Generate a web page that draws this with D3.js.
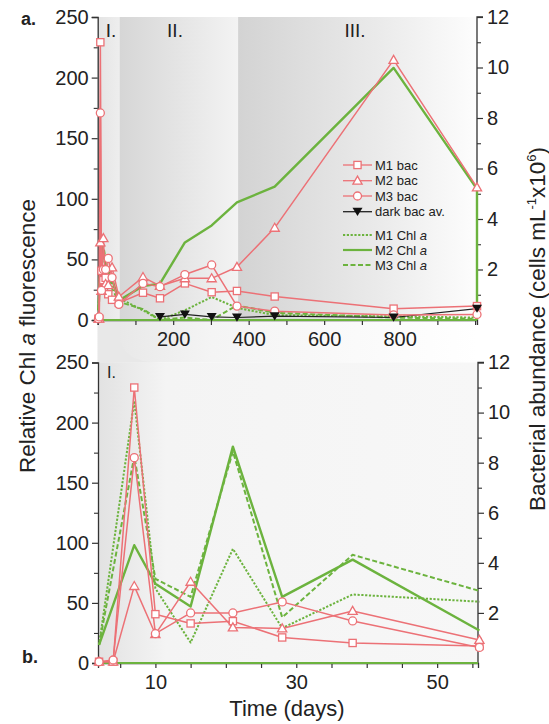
<!DOCTYPE html>
<html><head><meta charset="utf-8">
<script src="https://cdn.jsdelivr.net/npm/d3@7"></script>
<style>
body{margin:0;background:#fff}
svg{display:block}
text{font-family:"Liberation Sans",Arial,Helvetica,sans-serif;fill:#222}
</style>
</head><body>
<svg id="c" width="549" height="724"></svg>
<script>
// ---------------- DATA ----------------
// Phase I sampling days (days since start)
const bacDaysI = [2, 4, 7, 10, 15, 21, 28, 38, 56];
const chlDaysI = [2, 7, 10, 15, 21, 28, 38, 56];
// Phase I Chl as shown in the overview panel (a)
const topChlDaysI = [2, 10, 21, 38, 56];
// Phase II / III sampling days
const daysII = [120, 165, 231, 302, 369, 469, 784, 1005];
const darkDays = [165, 231, 302, 369, 469, 784, 1005];

// Bacterial abundance (cells mL-1 x10^6)
const m1BacI = [0.05, 0.05, 11.0, 1.95, 1.58, 1.67, 1.02, 0.80, 0.68];
const m2BacI = [0.05, 0.05, 3.07, 1.15, 3.24, 1.42, 1.38, 2.08, 0.92];
const m3BacI = [0.05, 0.12, 8.2, 1.17, 2.0, 2.0, 2.44, 1.68, 0.62];
const m1BacII = [1.08, 0.86, 1.45, 1.10, 1.15, 0.93, 0.45, 0.55];
const m2BacII = [1.70, 1.35, 1.65, 1.65, 2.10, 3.65, 10.3, 5.25];
const m3BacII = [1.45, 1.32, 1.80, 2.18, 0.55, 0.35, 0.20, 0.22];
const darkBac = [0.12, 0.22, 0.12, 0.10, 0.15, 0.10, 0.45];

// Relative Chl a fluorescence (panel b, phase I detail)
const m1ChlI = [15, 218, 62, 17, 95, 29, 57, 51];
const m2ChlI = [15, 98, 66, 47, 180, 55, 86, 27];
const m3ChlI = [15, 172, 70, 55, 176, 38, 90, 60];
// Relative Chl a fluorescence (panel a, phase I)
const m1ChlTopI = [8, 66, 42, 30, 18];
const m2ChlTopI = [8, 62, 46, 34, 16];
const m3ChlTopI = [8, 70, 50, 26, 15];
// Phase II / III
const m1ChlII = [8, 0, 8, 19, 10, 4, 3, 2];
const m2ChlII = [28, 30, 64, 78, 97, 110, 208, 108];
const m3ChlII = [9, 0, 2, 0, 12, 6, 2, 1];
const darkChl = 0;

// Axis ticks
const leftTicks = [0, 50, 100, 150, 200, 250];
const rightTicks = [2, 4, 6, 8, 10, 12];
const topXLabels = [200, 400, 600, 800];
const botXLabels = [10, 30, 50];
const phaseLabels = ["I.", "II.", "III."];
const phaseBounds = [0, 58, 372, 1005];

const legendItems = [
  {label: "M1 bac", type: "bac", marker: "square"},
  {label: "M2 bac", type: "bac", marker: "triangle"},
  {label: "M3 bac", type: "bac", marker: "circle"},
  {label: "dark bac av.", type: "dark", marker: "tridown"},
  {label: "M1 Chl ", ital: "a", type: "chl", dash: "2.2,1.6"},
  {label: "M2 Chl ", ital: "a", type: "chl", dash: null},
  {label: "M3 Chl ", ital: "a", type: "chl", dash: "5,2.5"}
];

// ---------------- DRAW ----------------
const RED = "#ec7176", GREEN = "#6cb33e", FONT = '"Liberation Sans",Arial,sans-serif';
const svg = d3.select("#c");

const xTop = d3.scaleLinear().domain([0, 1005]).range([97.7, 477]);
const yTopL = d3.scaleLinear().domain([0, 250]).range([320, 17]);
const yTopR = d3.scaleLinear().domain([0, 12]).range([320, 17]);
const xBot = d3.scaleLinear().domain([1.85, 55.8]).range([98, 478]);
const yBotL = d3.scaleLinear().domain([0, 250]).range([663, 362.5]);
const yBotR = d3.scaleLinear().domain([0, 12]).range([663, 362.5]);

const defs = svg.append("defs");
function grad(id, stops, vertical) {
  const g = defs.append("linearGradient").attr("id", id)
    .attr("x1", 0).attr("y1", 0).attr("x2", vertical ? 0 : 1).attr("y2", vertical ? 1 : 0);
  stops.forEach(s => g.append("stop").attr("offset", s[0]).attr("stop-color", s[1]));
}
grad("gI", [[0, "#e4e4e4"], [1, "#eeeeee"]]);
grad("gII", [[0, "#d6d6d6"], [1, "#f3f3f3"]]);
grad("gIII", [[0, "#d3d3d3"], [0.6, "#ebebeb"], [1, "#fdfdfd"]]);
grad("gBot", [[0, "#e2e2e2"], [0.18, "#f4f4f4"], [1, "#f7f7f7"]]);
grad("gMid", [[0, "#e6e6e6"], [0.3, "#f4f4f4"], [1, "#ffffff"]]);

const shadeFills = ["url(#gI)", "url(#gII)", "url(#gIII)"];
for (let i = 0; i < 3; i++) {
  svg.append("rect")
    .attr("x", xTop(phaseBounds[i])).attr("y", yTopL(250))
    .attr("width", xTop(phaseBounds[i + 1]) - xTop(phaseBounds[i]))
    .attr("height", yTopL(0) - yTopL(250))
    .attr("fill", shadeFills[i]);
}
svg.append("rect").attr("x", xTop(0)).attr("y", yTopL(0)).attr("width", xBot(55.8) - xTop(0))
  .attr("height", yBotL(250) - yTopL(0)).attr("fill", "url(#gMid)");
svg.append("path")
  .attr("d", `M${xTop(0)},${yTopL(0)} L${xTop(58)},${yTopL(0)} L${xTop(58)},${yTopL(0)+14} Q${xTop(58)},${yBotL(250)} ${xTop(58)+40},${yBotL(250)} L${xTop(0)},${yBotL(250)} Z`)
  .attr("fill", "#e8e8e8");
svg.append("rect").attr("x", xBot(1.85)).attr("y", yBotL(250))
  .attr("width", xBot(55.8) - xBot(1.85)).attr("height", yBotL(0) - yBotL(250))
  .attr("fill", "url(#gBot)");

// ---------- axes ----------
function styleAxis(g, fs) {
  g.select(".domain").attr("stroke", "#333").attr("stroke-width", 1.3);
  g.selectAll(".tick line").attr("stroke", "#333").attr("stroke-width", 1.2);
  g.selectAll("text").attr("font-size", fs).attr("font-family", FONT).attr("fill", "#222");
}
function minor(axisFn, scale, vals, x, y, size) {
  const g = svg.append("g").attr("transform", `translate(${x},${y})`)
    .call(axisFn(scale).tickValues(vals).tickSize(size).tickFormat(""));
  g.select(".domain").remove();
  g.selectAll(".tick line").attr("stroke", "#333").attr("stroke-width", 1.1);
}
const minorL = d3.range(25, 250, 50);
const minorR = d3.range(1, 12, 2);

function yAxes(yL, yR, xl, xr) {
  const gl = svg.append("g").attr("transform", `translate(${xl},0)`)
    .call(d3.axisLeft(yL).tickValues(leftTicks).tickSize(6).tickPadding(3));
  styleAxis(gl, 20);
  minor(d3.axisLeft, yL, minorL, xl, 0, 4);
  const gr = svg.append("g").attr("transform", `translate(${xr},0)`)
    .call(d3.axisRight(yR).tickValues(rightTicks).tickSize(6).tickPadding(4));
  styleAxis(gr, 20);
  gr.select(".domain").attr("d", `M6,${yR(12)}H0V${yR(0)}`);
  minor(d3.axisRight, yR, minorR, xr, 0, 4);
}
yAxes(yTopL, yTopR, xTop(0), xTop(1005));
yAxes(yBotL, yBotR, xBot(1.85), xBot(55.8));

const gxt = svg.append("g").attr("transform", `translate(0,${yTopL(0)})`)
  .call(d3.axisBottom(xTop).tickValues(d3.range(0, 1001, 100)).tickSize(5).tickPadding(7)
    .tickFormat(d => topXLabels.includes(d) ? d : ""));
styleAxis(gxt, 20);
const gxb = svg.append("g").attr("transform", `translate(0,${yBotL(0)})`)
  .call(d3.axisBottom(xBot).tickValues(d3.range(5, 56, 5)).tickSize(5).tickPadding(7)
    .tickFormat(d => botXLabels.includes(d) ? d : ""));
styleAxis(gxb, 20);

// ---------- series ----------
function pts(days, vals) { return days.map((d, i) => [d, vals[i]]); }
function drawLine(xs, ys, data, color, width, dash) {
  svg.append("path").datum(data)
    .attr("d", d3.line().x(d => xs(d[0])).y(d => ys(d[1])))
    .attr("fill", "none").attr("stroke", color).attr("stroke-width", width)
    .attr("stroke-dasharray", dash || null).attr("stroke-linejoin", "round");
}
function marker(g, type, x, y, color) {
  if (type === "square") {
    g.append("rect").attr("x", x - 3.6).attr("y", y - 3.6).attr("width", 7.2).attr("height", 7.2)
      .attr("fill", "#fff").attr("stroke", color).attr("stroke-width", 1.3);
  } else if (type === "circle") {
    g.append("circle").attr("cx", x).attr("cy", y).attr("r", 4)
      .attr("fill", "#fff").attr("stroke", color).attr("stroke-width", 1.3);
  } else if (type === "triangle") {
    g.append("path").attr("d", `M${x},${y - 4.6}L${x + 4.6},${y + 3.4}L${x - 4.6},${y + 3.4}Z`)
      .attr("fill", "#fff").attr("stroke", color).attr("stroke-width", 1.3);
  } else if (type === "tridown") {
    g.append("path").attr("d", `M${x},${y + 4.2}L${x + 5},${y - 4}L${x - 5},${y - 4}Z`)
      .attr("fill", "#111");
  }
}

const chlStyles = [
  {I: m1ChlI, topI: m1ChlTopI, II: m1ChlII, dash: "2.2,1.6", w: 2},
  {I: m2ChlI, topI: m2ChlTopI, II: m2ChlII, dash: null, w: 2.4},
  {I: m3ChlI, topI: m3ChlTopI, II: m3ChlII, dash: "5,2.5", w: 2}
];
const bacSeries = [
  {I: m1BacI, II: m1BacII, m: "square"},
  {I: m2BacI, II: m2BacII, m: "triangle"},
  {I: m3BacI, II: m3BacII, m: "circle"}
];

// ---- top panel ----
drawLine(xTop, yTopL, [[0, darkChl], [1005, darkChl]], GREEN, 2.2);
chlStyles.forEach((s, i) => {
  let data = pts(topChlDaysI.concat(daysII), s.topI.concat(s.II));
  if (i === 1) data = data.concat([[1005, darkChl]]);
  drawLine(xTop, yTopL, data, GREEN, s.w, s.dash);
});
drawLine(xTop, yTopR, pts(darkDays, darkBac), "#222", 1.2);
bacSeries.forEach(s => drawLine(xTop, yTopR, pts(bacDaysI.concat(daysII), s.I.concat(s.II)), RED, 1.5));
const mkTop = svg.append("g");
bacSeries.forEach(s => pts(bacDaysI.concat(daysII), s.I.concat(s.II))
  .forEach(p => marker(mkTop, s.m, xTop(p[0]), yTopR(p[1]), RED)));
pts(darkDays, darkBac).forEach(p => marker(mkTop, "tridown", xTop(p[0]), yTopR(p[1]), "#111"));

// ---- bottom panel ----
drawLine(xBot, yBotL, [[1.85, darkChl], [55.8, darkChl]], GREEN, 2.2);
chlStyles.forEach(s => drawLine(xBot, yBotL, pts(chlDaysI, s.I), GREEN, s.w, s.dash));
bacSeries.forEach(s => drawLine(xBot, yBotR, pts(bacDaysI, s.I), RED, 1.5));
const mkBot = svg.append("g");
bacSeries.forEach(s => pts(bacDaysI, s.I).forEach(p => marker(mkBot, s.m, xBot(p[0]), yBotR(p[1]), RED)));

// ---------- labels ----------
function txt(x, y, s, fs, opts = {}) {
  return svg.append("text").attr("x", x).attr("y", y).attr("font-size", fs)
    .attr("font-weight", opts.bold ? "bold" : null)
    .attr("text-anchor", opts.anchor || "start").text(s);
}
txt(21, 25, "a.", 18, {bold: true});
txt(22, 663, "b.", 18, {bold: true});
const phaseX = [111, 175, 355];
phaseLabels.forEach((p, i) => txt(phaseX[i], 37, p, 19, {anchor: "middle"}));
txt(107, 378, "I.", 16);

const lt = svg.append("text").attr("transform", "translate(35,336) rotate(-90)")
  .attr("text-anchor", "middle").attr("font-size", 22.5);
lt.append("tspan").text("Relative Chl ");
lt.append("tspan").attr("font-style", "italic").text("a");
lt.append("tspan").text(" fluorescence");

const rt = svg.append("text").attr("transform", "translate(545,329) rotate(-90)")
  .attr("text-anchor", "middle").attr("font-size", 22.5);
rt.append("tspan").text("Bacterial abundance (cells mL");
rt.append("tspan").attr("font-size", 13).attr("dy", -9).text("-1");
rt.append("tspan").attr("dy", 9).text("x10");
rt.append("tspan").attr("font-size", 13).attr("dy", -9).text("6");
rt.append("tspan").attr("dy", 9).text(")");

txt(287, 716, "Time (days)", 22, {anchor: "middle"});

// ---------- legend ----------
const legY = [165, 180.7, 196, 211.7, 235, 250, 265];
const lg = svg.append("g");
legendItems.forEach((it, i) => {
  const y = legY[i];
  const col = it.type === "bac" ? RED : it.type === "dark" ? "#222" : GREEN;
  lg.append("line").attr("x1", 343).attr("x2", 372).attr("y1", y).attr("y2", y)
    .attr("stroke", col).attr("stroke-width", it.type === "chl" ? 2.2 : 1.3)
    .attr("stroke-dasharray", it.dash || null);
  if (it.marker) marker(lg, it.marker, 357.5, y, col);
  const t = lg.append("text").attr("x", 375).attr("y", y + 4.5).attr("font-size", 13);
  t.append("tspan").text(it.label);
  if (it.ital) t.append("tspan").attr("font-style", "italic").text(it.ital);
});
</script>
</body></html>
